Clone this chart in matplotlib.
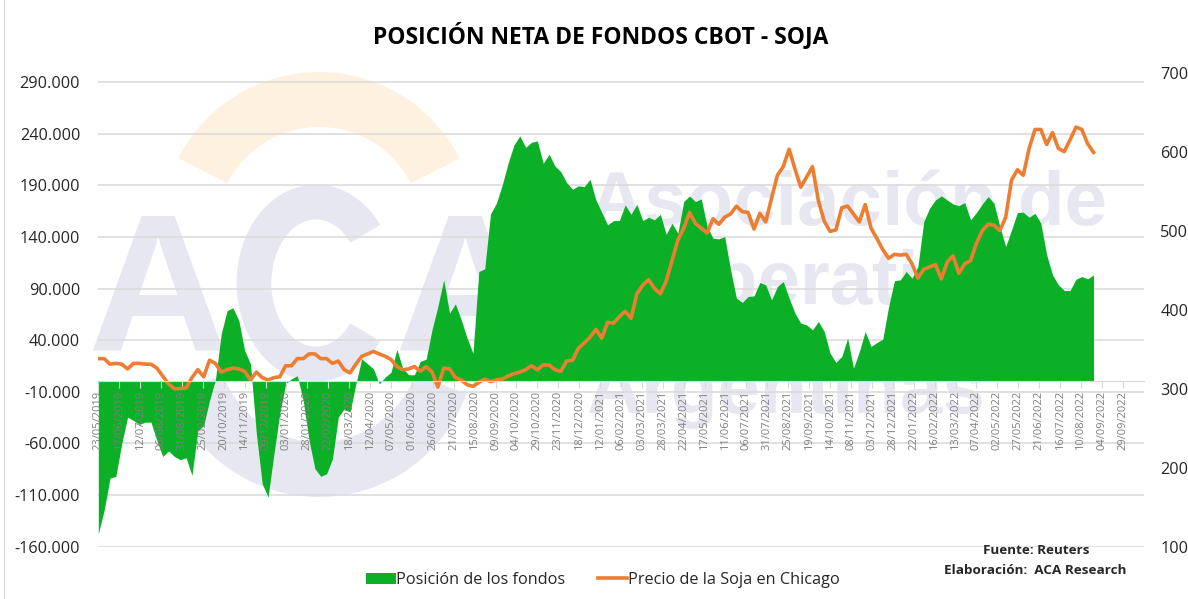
import numpy as np
import pandas as pd
import matplotlib
matplotlib.use("Agg")
import matplotlib.pyplot as plt
from matplotlib.patches import Wedge, Arc, Rectangle

plt.rcParams['font.family'] = ['Open Sans', 'DejaVu Sans']

# Net fund position, thousands of contracts (weekly)
position_k = [
 -147.4,-124.8,-93.6,-91.9,-60.3,-34.5,-37.7,-41.6,-39.4,-39.4,-57.1,-72.6,-67.4,-72.6,-75.8,-73.9,-91.0,-47.7,-42.6,-18.4,
 1.6,46.1,68.7,71.3,59.0,30.0,17.1,-50.6,-99.0,-111.9,-70.0,-31.3,-2.3,2.6,5.5,-18.4,-57.1,-84.5,-91.9,-89.4,
 -74.8,-34.5,-26.5,-29.7,-2.3,21.9,17.1,12.3,-2.3,4.2,9.0,31.0,12.9,6.5,6.5,19.4,21.6,50.0,72.6,98.4,
 66.1,75.2,59.7,41.9,27.4,106.5,109.0,162.3,172.6,190.3,211.3,229.0,237.8,226.8,231.6,232.9,211.3,220.0,208.7,203.2,
 192.6,186.1,189.4,188.7,195.8,175.8,163.6,151.6,155.8,155.8,171.0,161.9,171.6,155.8,159.0,156.5,161.9,142.6,153.2,143.6,
 174.2,179.7,174.2,176.8,150.0,138.7,138.1,140.3,108.1,80.7,76.5,82.3,82.9,95.8,93.6,79.0,91.9,96.8,80.7,66.1,
 56.5,54.8,50.0,58.1,48.4,27.4,18.4,24.2,41.9,12.9,29.0,48.4,33.9,37.7,41.0,72.6,97.7,98.4,106.5,100.0,
 111.3,154.8,167.8,175.8,179.7,175.8,171.9,170.3,173.2,156.5,163.6,171.9,179.0,172.6,150.0,130.7,146.8,163.6,163.9,159.0,
 162.9,153.2,122.6,103.2,93.6,88.1,88.1,99.0,101.6,99.4,103.2]

# Soybean price in Chicago (weekly)
price = [
 338,338,331,332,331,325,332,332,331,331,326,316,306,300,300,301,314,324,315,336,
 332,321,324,326,325,322,311,321,314,311,314,315,329,329,338,338,344,344,338,338,
 332,335,324,320,331,341,344,347,344,341,337,328,324,325,328,322,328,321,302,326,
 325,314,311,305,303,308,312,309,311,312,316,319,321,324,329,324,330,330,324,322,
 335,336,351,358,365,375,364,384,383,391,398,389,420,431,438,427,420,436,462,488,
 503,523,509,503,497,515,508,517,521,531,524,523,502,522,511,541,570,581,603,578,
 555,568,581,538,512,499,501,529,531,521,511,533,503,490,476,465,470,469,470,458,
 440,451,454,457,439,460,468,446,458,462,484,500,508,507,500,517,564,577,570,604,
 628,628,609,624,604,600,615,631,628,610,599]

start = pd.Timestamp("2019-05-23")
dates = pd.date_range(start, periods=len(price), freq="7D")
tick_dates = pd.date_range(start, periods=50, freq="25D")
tick_labels = [d.strftime("%d/%m/%Y") for d in tick_dates]
left_ticks = list(range(-160000, 290001, 50000))
left_labels = [f"{v:,}".replace(",", ".") for v in left_ticks]
right_ticks = [100, 200, 300, 400, 500, 600, 700]

W, H = 1188, 599
LAV, ORG = "#e6e7f1", "#fff1e0"
GREEN, LINE = "#0cb027", "#ed7d31"
fig = plt.figure(figsize=(W/100, H/100), dpi=100, facecolor="white")

# Watermark layer, in pixel coordinates
wm = fig.add_axes([0, 0, 1, 1], zorder=0)
wm.set_xlim(0, W); wm.set_ylim(H, 0); wm.axis("off")
wm.add_patch(Rectangle((4, -5), 1, H+10, color="#d9d9d9", lw=0))
wm.add_patch(Wedge((319, 230), 158, 207, 333, width=55, color=ORG, lw=0))
wm.add_patch(Wedge((319, 340), 157, 20, 160, width=55, color=LAV, lw=0))
wm.add_patch(Arc((316, 283), 124, 162, theta1=45, theta2=315, color=LAV, lw=25, capstyle="butt"))
wm.text(157, 350, "A", fontsize=140, fontweight="bold", family="Liberation Sans", color=LAV, ha="center", va="baseline")
wm.text(464, 350, "A", fontsize=140, fontweight="bold", family="Liberation Sans", color=LAV, ha="center", va="baseline")
wm.text(848, 225, "Asociación de", fontsize=55, fontweight="bold", family="Liberation Sans", color=LAV, ha="center", va="baseline")
wm.text(805, 304, "Cooperativas", fontsize=55, fontweight="bold", family="Liberation Sans", color=LAV, ha="center", va="baseline")
wm.text(785, 413, "Argentinas", fontsize=55, fontweight="bold", family="Liberation Sans", color=LAV, ha="center", va="baseline")

x0, x1, ytop, ybot = 98.3, 1143.7, 72.6, 546.7
ax = fig.add_axes([x0/W, 1-ybot/H, (x1-x0)/W, (ybot-ytop)/H], zorder=1)
ax.patch.set_alpha(0)
pos = np.array(position_k) * 1000
ax.fill_between(dates, pos, 0, color=GREEN, lw=0, zorder=2, label="Posición de los fondos")

ax2 = ax.twinx()
ax2.plot(dates, price, color=LINE, lw=2.6, solid_joinstyle="round", label="Precio de la Soja en Chicago")
ax2.set_ylim(100, 700)
ax2.set_yticks(right_ticks)
ax2.tick_params(axis="y", length=0, pad=12, labelsize=11.7, labelcolor="#262626")
for name, s in ax2.spines.items():
    s.set_visible(name == "bottom")

ax.set_ylim(-160000, 299100)
ax.set_yticks(left_ticks, left_labels)
ax.grid(axis="y", color="#dcdcdc", lw=1.2, zorder=1)
ax.set_axisbelow(True)
ax.tick_params(axis="y", length=0, pad=13, labelsize=11.7, labelcolor="#262626")
for s in ax.spines.values():
    s.set_visible(False)

# The date axis belongs to the upper axes so that its labels stay above the green area
zero_frac = 160000 / 459100
ax2.xaxis.set_visible(True)
ax2.spines["bottom"].set_position(("axes", zero_frac))
ax2.spines["bottom"].set_color("#d9d9d9")
ax2.set_xticks(tick_dates)
ax2.set_xticklabels(tick_labels)
ax2.set_xlim(start, start + pd.Timedelta(days=1250))
ax.tick_params(axis="x", bottom=False, labelbottom=False)
ax2.tick_params(axis="x", bottom=True, labelbottom=True, direction="out", length=5, color="#d9d9d9",
                pad=1.5, labelsize=8, labelcolor="#7f7f7f", labelrotation=90)

fig.text(601/W, 1-36/H, "POSICIÓN NETA DE FONDOS CBOT - SOJA", fontsize=16.5, fontweight="bold",
         color="black", ha="center", va="center")
fig.text(1036/W, 1-551/H, "Fuente: Reuters", fontsize=9.7, fontweight="bold", color="#262626", ha="center", va="center")
fig.text(1035/W, 1-570/H, "Elaboración:  ACA Research", fontsize=9.7, fontweight="bold", color="#262626", ha="center", va="center")

h1, l1 = ax.get_legend_handles_labels()
h2, l2 = ax2.get_legend_handles_labels()
fig.legend(h1+h2, l1+l2, ncol=2, loc="center", bbox_to_anchor=(603/W, 1-580/H), frameon=False,
           fontsize=11.7, handlelength=1.8, handleheight=0.7, handletextpad=0.05, columnspacing=2.0,
           labelcolor="#262626")

fig.savefig("out.png", dpi=100)
